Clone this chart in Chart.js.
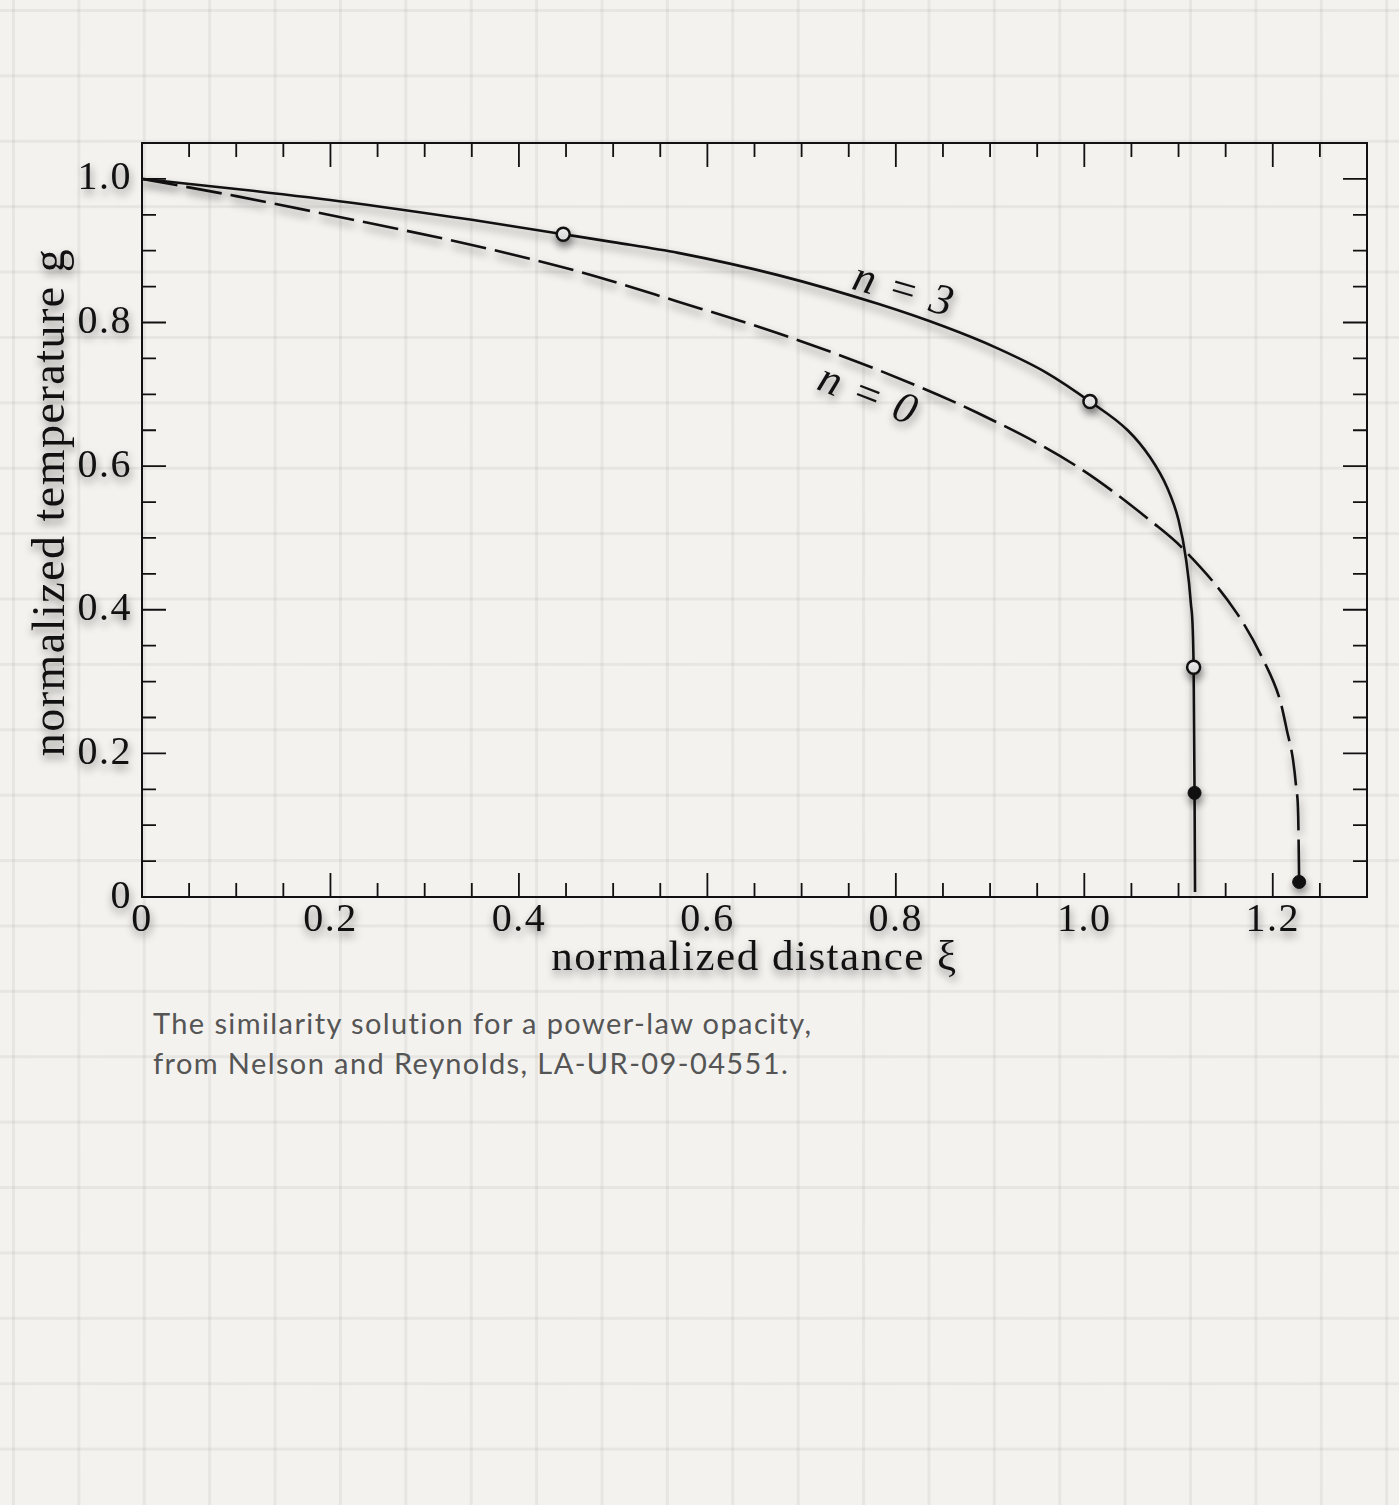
<!DOCTYPE html>
<html>
<head>
<meta charset="utf-8">
<script src="https://cdn.jsdelivr.net/npm/chart.js@4.4.1/dist/chart.umd.min.js"></script>
<style>
  html, body {
    margin: 0;
    padding: 0;
  }
  body {
    width: 1399px;
    height: 1505px;
    position: relative;
    overflow: hidden;
    background-color: #f3f2ef;
    background-image:
      linear-gradient(to right, rgba(110, 105, 100, 0.09) 0, rgba(110, 105, 100, 0.09) 3px, transparent 3px),
      linear-gradient(to bottom, rgba(110, 105, 100, 0.09) 0, rgba(110, 105, 100, 0.09) 3px, transparent 3px);
    background-size: 65.4px 65.4px;
    background-position: 12px 9px;
  }
  #wrap {
    position: absolute;
    left: 0;
    top: 0;
    width: 1399px;
    height: 1000px;
  }
  #caption {
    position: absolute;
    left: 153px;
    top: 1003px;
    font-family: Lato, "Noto Sans", sans-serif;
    font-size: 29px;
    letter-spacing: 1.4px;
    line-height: 40px;
    color: #555;
  }
</style>
</head>
<body>
<div id="wrap"><canvas id="plot"></canvas></div>
<div id="caption">The similarity solution for a power-law opacity,<br>from Nelson and Reynolds, LA-UR-09-04551.</div>
<script>
(function () {
    // n = 3 (solid)
    var xi3 = [0, 0.10, 0.2095, 0.35, 0.447, 0.50, 0.569, 0.675, 0.781, 0.852, 0.908, 0.96, 1.006, 1.046, 1.070, 1.088, 1.100, 1.108, 1.113, 1.116, 1.117, 1.1175];
    var g3 = [1, 0.986, 0.969, 0.943, 0.923, 0.912, 0.897, 0.866, 0.826, 0.794, 0.764, 0.730, 0.690, 0.650, 0.612, 0.570, 0.525, 0.470, 0.410, 0.320, 0.145, 0.007];

    // n = 0 (dashed)
    var xi0 = [0, 0.10, 0.2095, 0.35, 0.4635, 0.569, 0.675, 0.781, 0.887, 0.993, 1.074, 1.104, 1.162, 1.19, 1.2077, 1.215, 1.2215, 1.225, 1.227, 1.228];
    var g0 = [1, 0.976, 0.947, 0.908, 0.871, 0.829, 0.785, 0.734, 0.674, 0.599, 0.520, 0.486, 0.395, 0.330, 0.274, 0.232, 0.191, 0.150, 0.112, 0.021];

    // marked points
    var openXi = [0.447, 1.006, 1.116];
    var openG = [0.923, 0.690, 0.320];
    var dotXi = [1.117, 1.228];
    var dotG = [0.145, 0.021];

    var xTicks = [0, 0.2, 0.4, 0.6, 0.8, 1.0, 1.2];
    var xTickLabels = ['0', '0.2', '0.4', '0.6', '0.8', '1.0', '1.2'];
    var yTicks = [0, 0.2, 0.4, 0.6, 0.8, 1.0];
    var yTickLabels = ['0', '0.2', '0.4', '0.6', '0.8', '1.0'];

    function pts(xs, ys) {
        return xs.map(function (x, i) { return { x: x, y: ys[i] }; });
    }

    var serif = "'Liberation Serif', 'DejaVu Serif', serif";

    function setShadow(ctx, on) {
        ctx.shadowColor = on ? 'rgba(0,0,0,0.45)' : 'rgba(0,0,0,0)';
        ctx.shadowBlur = on ? 8 : 0;
        ctx.shadowOffsetX = on ? 1 : 0;
        ctx.shadowOffsetY = on ? 5 : 0;
    }

    // soft drop shadow under text and curves
    var shadowPlugin = {
        id: 'shadow',
        beforeDraw: function (chart) {
            setShadow(chart.ctx, true);
            chart.ctx.letterSpacing = '1.5px';
        },
        afterDraw: function (chart) {
            setShadow(chart.ctx, false);
            chart.ctx.letterSpacing = '0px';
        }
    };

    // box frame with inward ticks on all four sides, y title, curve labels
    var framePlugin = {
        id: 'frame',
        afterDraw: function (chart) {
            var ctx = chart.ctx;
            var a = chart.chartArea;
            var xs = chart.scales.x;
            var ys = chart.scales.y;
            ctx.save();
            setShadow(ctx, false);
            ctx.strokeStyle = '#111';
            ctx.lineWidth = 2;
            ctx.strokeRect(a.left, a.top, a.right - a.left, a.bottom - a.top);

            ctx.lineWidth = 1.8;
            ctx.beginPath();
            var i, p, len;
            for (i = 1; i * 0.05 < xs.max; i++) {
                p = xs.getPixelForValue(i * 0.05);
                len = (i % 4 === 0) ? 24 : 14;
                ctx.moveTo(p, a.bottom); ctx.lineTo(p, a.bottom - len);
                ctx.moveTo(p, a.top); ctx.lineTo(p, a.top + len);
            }
            for (i = 1; i * 0.05 < ys.max; i++) {
                p = ys.getPixelForValue(i * 0.05);
                len = (i % 4 === 0) ? 24 : 14;
                ctx.moveTo(a.left, p); ctx.lineTo(a.left + len, p);
                ctx.moveTo(a.right, p); ctx.lineTo(a.right - len, p);
            }
            ctx.stroke();
            ctx.restore();

            ctx.save();
            setShadow(ctx, true);
            ctx.letterSpacing = '1.5px';
            ctx.fillStyle = '#111';
            ctx.textAlign = 'center';
            ctx.textBaseline = 'middle';

            // y axis title
            ctx.save();
            ctx.font = '46px ' + serif;
            ctx.translate(52, ys.getPixelForValue(0.55));
            ctx.rotate(-Math.PI / 2);
            ctx.fillText('normalized temperature g', 0, 0);
            ctx.restore();

            // curve labels
            var labels = [
                { text: 'n = 3', x: 0.808, y: 0.843, angle: 16 },
                { text: 'n = 0', x: 0.770, y: 0.697, angle: 21 }
            ];
            ctx.font = 'italic 44px ' + serif;
            labels.forEach(function (l) {
                ctx.save();
                ctx.translate(xs.getPixelForValue(l.x), ys.getPixelForValue(l.y));
                ctx.rotate(l.angle * Math.PI / 180);
                ctx.fillText(l.text, 0, 0);
                ctx.restore();
            });
            ctx.restore();
        }
    };

    var ctx = document.getElementById('plot').getContext('2d');
    new Chart(ctx, {
        type: 'line',
        data: {
            datasets: [{
                label: 'n = 3',
                data: pts(xi3, g3),
                order: 2,
                borderColor: '#111',
                borderWidth: 2.6,
                pointRadius: 0,
                cubicInterpolationMode: 'monotone',
                fill: false
            }, {
                label: 'n = 0',
                data: pts(xi0, g0),
                order: 2,
                borderColor: '#111',
                borderWidth: 2.6,
                borderDash: [36, 9],
                pointRadius: 0,
                cubicInterpolationMode: 'monotone',
                fill: false
            }, {
                label: 'open',
                data: pts(openXi, openG),
                order: 1,
                showLine: false,
                pointRadius: 6.5,
                pointBackgroundColor: '#fff',
                pointBorderColor: '#111',
                pointBorderWidth: 2.5
            }, {
                label: 'filled',
                data: pts(dotXi, dotG),
                order: 1,
                showLine: false,
                pointRadius: 6.5,
                pointBackgroundColor: '#111',
                pointBorderColor: '#111',
                pointBorderWidth: 1
            }]
        },
        options: {
            responsive: true,
            maintainAspectRatio: false,
            animation: false,
            events: [],
            layout: { padding: { left: 0, top: 143, right: 32, bottom: 0 } },
            plugins: {
                legend: { display: false },
                tooltip: { enabled: false }
            },
            scales: {
                x: {
                    type: 'linear',
                    min: 0,
                    max: 1.3,
                    grid: { display: false, drawTicks: false },
                    border: { display: false },
                    afterFit: function (s) { s.height = 103; },
                    afterBuildTicks: function (s) {
                        s.ticks = xTicks.map(function (v) { return { value: v }; });
                    },
                    ticks: {
                        padding: 3,
                        color: '#111',
                        maxRotation: 0,
                        autoSkip: false,
                        font: { family: serif, size: 40, lineHeight: 1 },
                        callback: function (v) {
                            var i = xTicks.indexOf(v);
                            return i >= 0 ? xTickLabels[i] : '';
                        }
                    },
                    title: {
                        display: true,
                        text: 'normalized distance ξ',
                        color: '#111',
                        padding: { top: 0, bottom: 15 },
                        font: { family: serif, size: 43 }
                    }
                },
                y: {
                    type: 'linear',
                    min: 0,
                    max: 1.05,
                    grid: { display: false, drawTicks: false },
                    border: { display: false },
                    afterFit: function (s) { s.width = 142; },
                    afterBuildTicks: function (s) {
                        s.ticks = yTicks.map(function (v) { return { value: v }; });
                    },
                    ticks: {
                        padding: 10,
                        color: '#111',
                        autoSkip: false,
                        font: { family: serif, size: 40, lineHeight: 1 },
                        callback: function (v) {
                            var i = yTicks.indexOf(v);
                            return i >= 0 ? yTickLabels[i] : '';
                        }
                    },
                    title: { display: false }
                }
            }
        },
        plugins: [shadowPlugin, framePlugin]
    });
})();
</script>
</body>
</html>
